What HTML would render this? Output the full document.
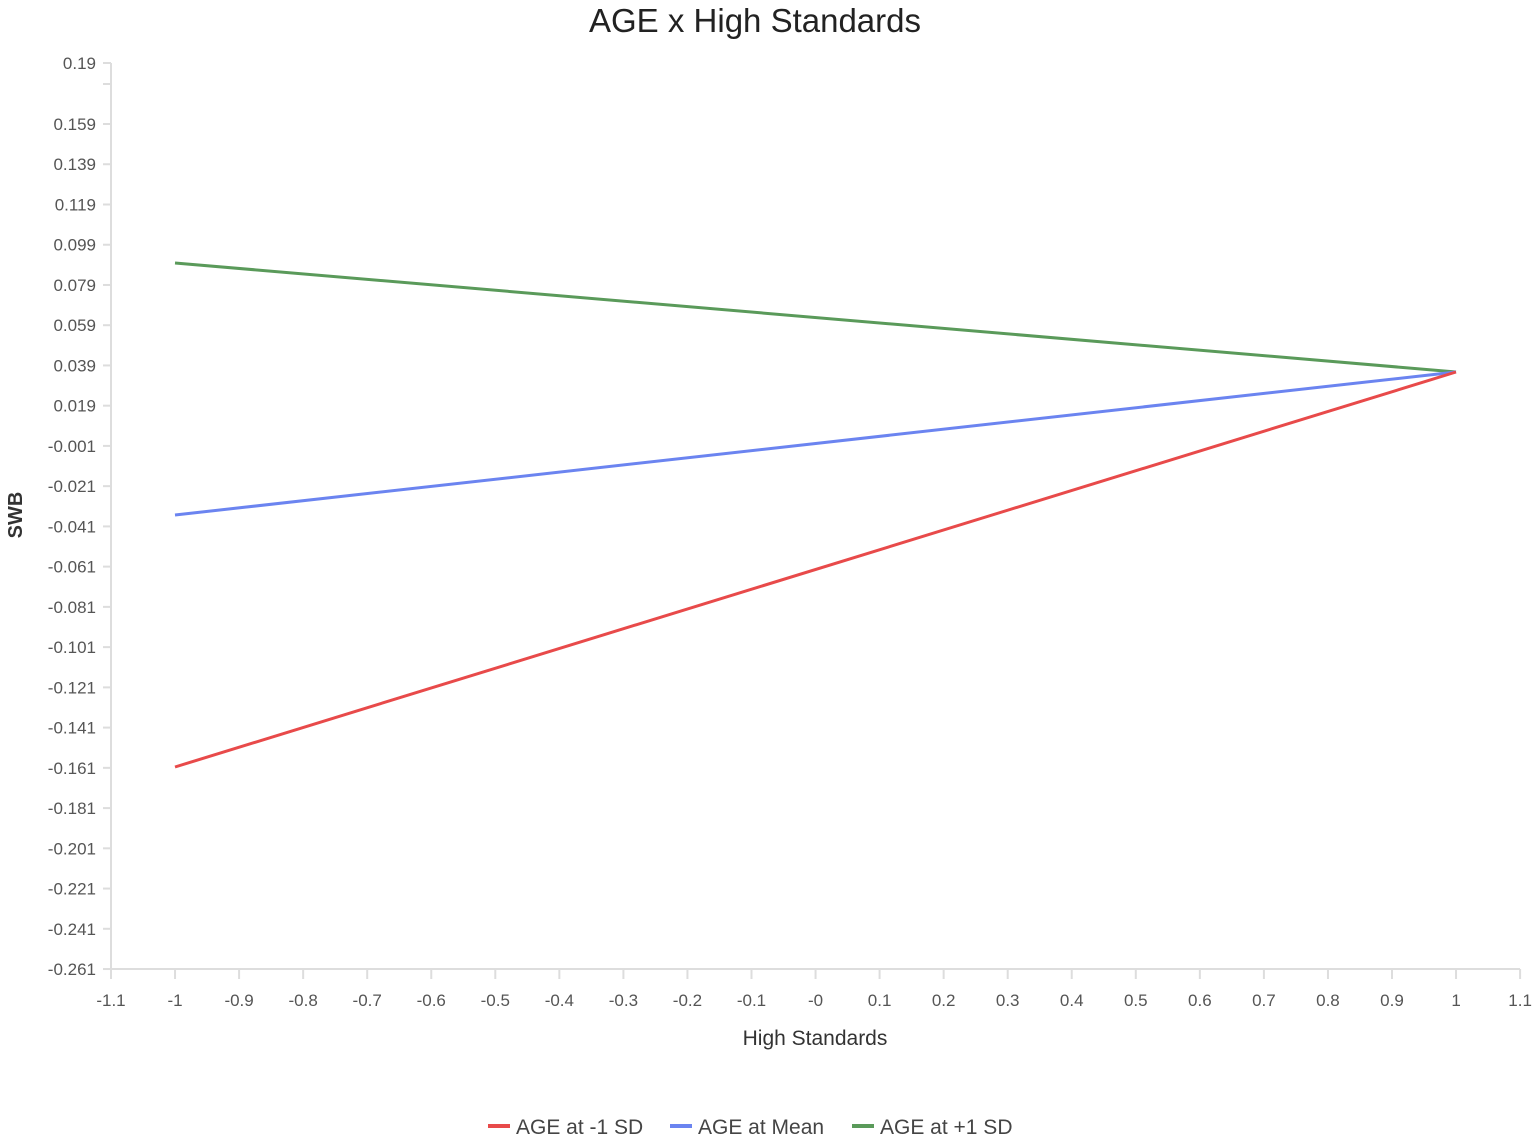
<!DOCTYPE html>
<html><head><meta charset="utf-8"><style>body{margin:0;background:#fff}</style></head><body>
<svg width="1535" height="1140" xmlns="http://www.w3.org/2000/svg" font-family="Liberation Sans, sans-serif">
<rect width="1535" height="1140" fill="#fff"/>
<text x="755" y="32" font-size="33" text-anchor="middle" fill="#222">AGE x High Standards</text>
<g stroke="#ddd" stroke-width="2">
<line x1="111" y1="63" x2="111" y2="969"/>
<line x1="111" y1="969" x2="1520" y2="969"/>
<line x1="103" y1="63" x2="111" y2="63"/>
<line x1="103" y1="84" x2="111" y2="84"/>
</g>
<g id="yt" font-size="17" fill="#555" text-anchor="end"></g>
<g id="xt" font-size="17" fill="#555" text-anchor="middle"></g>
<text x="96" y="69" font-size="17" fill="#555" text-anchor="end">0.19</text>
<line x1="175" y1="263" x2="1456" y2="372" stroke="#5a9a5a" stroke-width="3"/>
<line x1="175" y1="515" x2="1456" y2="372" stroke="#6b84f0" stroke-width="3"/>
<line x1="175" y1="767" x2="1456" y2="372" stroke="#e84a4a" stroke-width="3"/>
<text x="815" y="1045" font-size="21" fill="#333" text-anchor="middle">High Standards</text>
<text transform="translate(22,515) rotate(-90)" font-size="20" fill="#333" text-anchor="middle" font-weight="bold">SWB</text>
<g font-size="21" fill="#444">
<rect x="488" y="1124" width="22" height="4" fill="#e84a4a"/><text x="516" y="1134">AGE at -1 SD</text>
<rect x="670" y="1124" width="22" height="4" fill="#6b84f0"/><text x="698" y="1134">AGE at Mean</text>
<rect x="852" y="1124" width="22" height="4" fill="#5a9a5a"/><text x="880" y="1134">AGE at +1 SD</text>
</g>
<script>
var ns="http://www.w3.org/2000/svg",yt=document.getElementById('yt'),xt=document.getElementById('xt'),svg=document.querySelector('svg');
for(var i=0;i<=21;i++){var v=0.159-0.02*i,y=124+i*40.24;
var t=document.createElementNS(ns,'text');t.setAttribute('x',96);t.setAttribute('y',y+6);t.textContent=(Math.abs(v)<0.0005?'-0.001':v.toFixed(3));yt.appendChild(t);
var l=document.createElementNS(ns,'line');l.setAttribute('x1',103);l.setAttribute('x2',111);l.setAttribute('y1',y);l.setAttribute('y2',y);l.setAttribute('stroke','#ddd');l.setAttribute('stroke-width',2);svg.appendChild(l);}
for(var j=0;j<=22;j++){var v=-1.1+0.1*j,x=111+j*64.05;var s=Math.abs(v)<1e-9?'-0':(Math.abs(Math.abs(v)-1)<1e-9?(v<0?'-1':'1'):v.toFixed(1));
var t=document.createElementNS(ns,'text');t.setAttribute('x',x);t.setAttribute('y',1006);t.textContent=s;xt.appendChild(t);
var l=document.createElementNS(ns,'line');l.setAttribute('x1',x);l.setAttribute('x2',x);l.setAttribute('y1',969);l.setAttribute('y2',979);l.setAttribute('stroke','#ddd');l.setAttribute('stroke-width',2);svg.appendChild(l);}
</script>
</svg>
</body></html>
